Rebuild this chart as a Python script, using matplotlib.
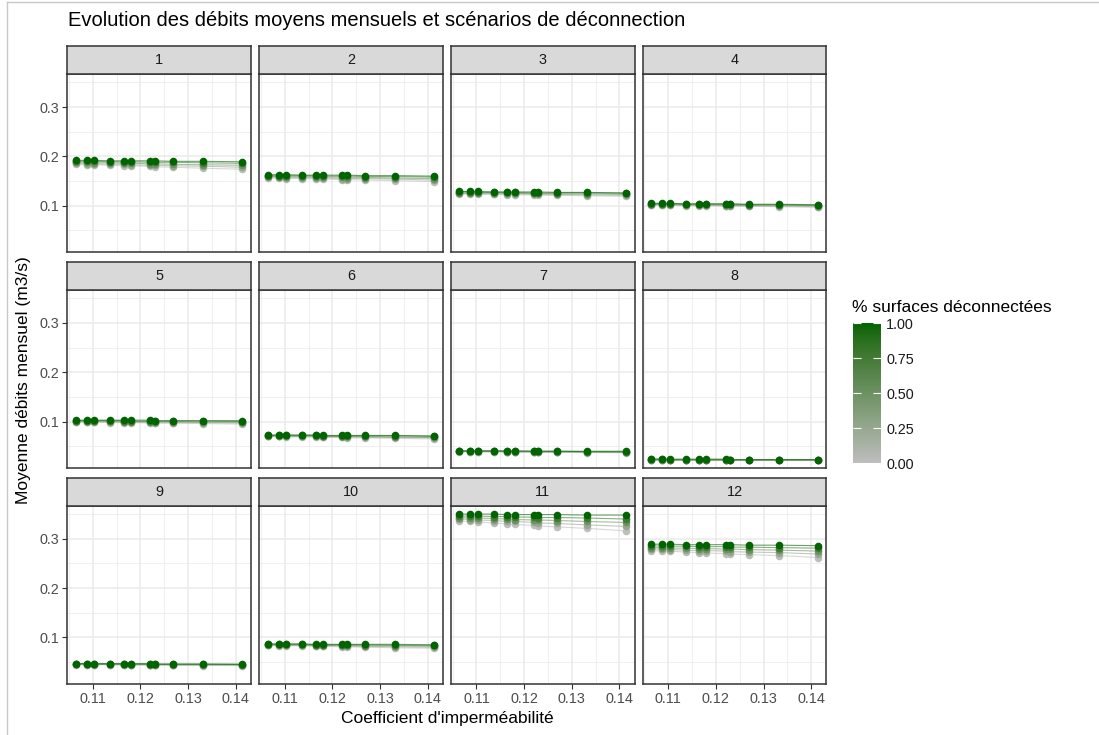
import numpy as np
import matplotlib
matplotlib.use("Agg")
import matplotlib.pyplot as plt
import matplotlib.colors as mcolors
from matplotlib.cm import ScalarMappable

plt.rcParams["font.family"] = ["Liberation Sans", "DejaVu Sans"]

# --- Data ---
impermeability = [0.1064, 0.1087, 0.1103, 0.1137, 0.1165, 0.1180, 0.1221, 0.1230, 0.1269, 0.1332, 0.1414]
disconnected = [0.0, 0.25, 0.5, 0.75, 1.0]
months = [1, 2, 3, 4, 5, 6, 7, 8, 9, 10, 11, 12]

# mean monthly flow (m3/s), one row per disconnection level (0 -> 1)
flow_m1 = [[0.184, 0.183, 0.183, 0.182, 0.181, 0.181, 0.180, 0.179, 0.178, 0.176, 0.174],
           [0.186, 0.185, 0.185, 0.184, 0.184, 0.183, 0.182, 0.182, 0.181, 0.180, 0.178],
           [0.188, 0.188, 0.187, 0.187, 0.186, 0.186, 0.185, 0.185, 0.184, 0.183, 0.182],
           [0.190, 0.190, 0.190, 0.189, 0.189, 0.189, 0.188, 0.188, 0.188, 0.187, 0.186],
           [0.192, 0.192, 0.192, 0.191, 0.191, 0.191, 0.191, 0.191, 0.190, 0.190, 0.189]]
flow_m2 = [[0.156, 0.156, 0.155, 0.155, 0.154, 0.154, 0.153, 0.153, 0.152, 0.151, 0.149],
           [0.158, 0.158, 0.157, 0.157, 0.156, 0.156, 0.155, 0.155, 0.155, 0.154, 0.152],
           [0.160, 0.159, 0.159, 0.159, 0.158, 0.158, 0.158, 0.157, 0.157, 0.156, 0.155],
           [0.161, 0.161, 0.161, 0.161, 0.160, 0.160, 0.160, 0.160, 0.159, 0.159, 0.158],
           [0.163, 0.163, 0.163, 0.162, 0.162, 0.162, 0.162, 0.162, 0.161, 0.161, 0.160]]
flow_m3 = [[0.124, 0.124, 0.123, 0.123, 0.122, 0.122, 0.122, 0.121, 0.121, 0.120, 0.119],
           [0.125, 0.125, 0.125, 0.124, 0.124, 0.124, 0.123, 0.123, 0.123, 0.122, 0.121],
           [0.126, 0.126, 0.126, 0.126, 0.125, 0.125, 0.125, 0.125, 0.124, 0.124, 0.123],
           [0.128, 0.128, 0.127, 0.127, 0.127, 0.127, 0.126, 0.126, 0.126, 0.126, 0.125],
           [0.129, 0.129, 0.129, 0.128, 0.128, 0.128, 0.128, 0.128, 0.127, 0.127, 0.126]]
flow_m4 = [[0.101, 0.101, 0.101, 0.100, 0.100, 0.100, 0.099, 0.099, 0.099, 0.098, 0.097],
           [0.102, 0.102, 0.102, 0.101, 0.101, 0.101, 0.100, 0.100, 0.100, 0.099, 0.098],
           [0.103, 0.103, 0.103, 0.102, 0.102, 0.102, 0.102, 0.101, 0.101, 0.101, 0.100],
           [0.104, 0.104, 0.104, 0.103, 0.103, 0.103, 0.103, 0.103, 0.102, 0.102, 0.101],
           [0.105, 0.105, 0.105, 0.104, 0.104, 0.104, 0.104, 0.104, 0.103, 0.103, 0.102]]
flow_m5 = [[0.099, 0.099, 0.099, 0.098, 0.098, 0.098, 0.097, 0.097, 0.097, 0.096, 0.095],
           [0.100, 0.100, 0.100, 0.099, 0.099, 0.099, 0.099, 0.098, 0.098, 0.098, 0.097],
           [0.101, 0.101, 0.101, 0.101, 0.100, 0.100, 0.100, 0.100, 0.100, 0.099, 0.099],
           [0.102, 0.102, 0.102, 0.102, 0.102, 0.101, 0.101, 0.101, 0.101, 0.101, 0.100],
           [0.103, 0.103, 0.103, 0.103, 0.103, 0.103, 0.103, 0.102, 0.102, 0.102, 0.102]]
flow_m6 = [[0.070, 0.070, 0.069, 0.069, 0.068, 0.068, 0.068, 0.067, 0.067, 0.066, 0.065],
           [0.071, 0.071, 0.070, 0.070, 0.070, 0.069, 0.069, 0.069, 0.068, 0.068, 0.067],
           [0.071, 0.071, 0.071, 0.071, 0.071, 0.070, 0.070, 0.070, 0.070, 0.069, 0.068],
           [0.072, 0.072, 0.072, 0.072, 0.072, 0.071, 0.071, 0.071, 0.071, 0.071, 0.070],
           [0.073, 0.073, 0.073, 0.073, 0.073, 0.072, 0.072, 0.072, 0.072, 0.072, 0.071]]
flow_m7 = [[0.039, 0.039, 0.039, 0.039, 0.038, 0.038, 0.038, 0.038, 0.038, 0.037, 0.037],
           [0.040, 0.039, 0.039, 0.039, 0.039, 0.039, 0.039, 0.038, 0.038, 0.038, 0.038],
           [0.040, 0.040, 0.040, 0.040, 0.039, 0.039, 0.039, 0.039, 0.039, 0.039, 0.038],
           [0.040, 0.040, 0.040, 0.040, 0.040, 0.040, 0.040, 0.040, 0.040, 0.039, 0.039],
           [0.041, 0.041, 0.041, 0.041, 0.041, 0.041, 0.040, 0.040, 0.040, 0.040, 0.040]]
flow_m8 = [[0.023, 0.023, 0.023, 0.023, 0.023, 0.022, 0.022, 0.022, 0.022, 0.022, 0.022],
           [0.023, 0.023, 0.023, 0.023, 0.023, 0.023, 0.023, 0.022, 0.022, 0.022, 0.022],
           [0.023, 0.023, 0.023, 0.023, 0.023, 0.023, 0.023, 0.023, 0.023, 0.023, 0.023],
           [0.024, 0.024, 0.023, 0.023, 0.023, 0.023, 0.023, 0.023, 0.023, 0.023, 0.023],
           [0.024, 0.024, 0.024, 0.024, 0.024, 0.024, 0.024, 0.023, 0.023, 0.023, 0.023]]
flow_m9 = [[0.045, 0.045, 0.045, 0.045, 0.044, 0.044, 0.044, 0.044, 0.044, 0.043, 0.043],
           [0.046, 0.045, 0.045, 0.045, 0.045, 0.045, 0.045, 0.045, 0.044, 0.044, 0.044],
           [0.046, 0.046, 0.046, 0.046, 0.046, 0.045, 0.045, 0.045, 0.045, 0.045, 0.045],
           [0.047, 0.046, 0.046, 0.046, 0.046, 0.046, 0.046, 0.046, 0.046, 0.046, 0.045],
           [0.047, 0.047, 0.047, 0.047, 0.047, 0.047, 0.047, 0.046, 0.046, 0.046, 0.046]]
flow_m10 = [[0.084, 0.083, 0.083, 0.083, 0.082, 0.082, 0.081, 0.081, 0.080, 0.079, 0.078],
            [0.085, 0.084, 0.084, 0.084, 0.083, 0.083, 0.083, 0.082, 0.082, 0.081, 0.080],
            [0.085, 0.085, 0.085, 0.085, 0.084, 0.084, 0.084, 0.084, 0.083, 0.083, 0.082],
            [0.086, 0.086, 0.086, 0.086, 0.085, 0.085, 0.085, 0.085, 0.085, 0.084, 0.084],
            [0.087, 0.087, 0.087, 0.087, 0.086, 0.086, 0.086, 0.086, 0.086, 0.086, 0.085]]
flow_m11 = [[0.336, 0.335, 0.334, 0.332, 0.330, 0.329, 0.327, 0.326, 0.324, 0.321, 0.316],
            [0.340, 0.339, 0.338, 0.337, 0.335, 0.335, 0.333, 0.332, 0.331, 0.328, 0.325],
            [0.343, 0.342, 0.342, 0.341, 0.340, 0.339, 0.338, 0.338, 0.337, 0.335, 0.333],
            [0.346, 0.346, 0.346, 0.345, 0.345, 0.344, 0.344, 0.343, 0.343, 0.342, 0.340],
            [0.350, 0.350, 0.350, 0.350, 0.349, 0.349, 0.349, 0.349, 0.349, 0.348, 0.348]]
flow_m12 = [[0.276, 0.275, 0.275, 0.273, 0.272, 0.271, 0.270, 0.269, 0.268, 0.266, 0.262],
            [0.279, 0.279, 0.278, 0.277, 0.276, 0.276, 0.275, 0.274, 0.273, 0.272, 0.269],
            [0.282, 0.282, 0.281, 0.281, 0.280, 0.280, 0.279, 0.279, 0.278, 0.277, 0.275],
            [0.286, 0.285, 0.285, 0.285, 0.284, 0.284, 0.284, 0.283, 0.283, 0.282, 0.281],
            [0.289, 0.289, 0.289, 0.288, 0.288, 0.288, 0.288, 0.288, 0.287, 0.287, 0.286]]

flows = [flow_m1, flow_m2, flow_m3, flow_m4, flow_m5, flow_m6,
         flow_m7, flow_m8, flow_m9, flow_m10, flow_m11, flow_m12]

x_ticks = [0.11, 0.12, 0.13, 0.14]
y_ticks = [0.1, 0.2, 0.3]


# --- grey -> darkgreen gradient interpolated in CIELAB (like ggplot) ---
M = np.array([[0.4124, 0.3576, 0.1805], [0.2126, 0.7152, 0.0722], [0.0193, 0.1192, 0.9505]])
WHITE = np.array([0.95047, 1.0, 1.08883])


def to_lab(c):
    rgb = np.array(mcolors.to_rgb(c))
    lin = np.where(rgb <= 0.04045, rgb / 12.92, ((rgb + 0.055) / 1.055) ** 2.4)
    xyz = M @ lin / WHITE
    f = np.where(xyz > 0.008856, np.cbrt(xyz), 7.787 * xyz + 16 / 116)
    return np.array([116 * f[1] - 16, 500 * (f[0] - f[1]), 200 * (f[1] - f[2])])


def from_lab(lab):
    fy = (lab[0] + 16) / 116
    f = np.array([fy + lab[1] / 500, fy, fy - lab[2] / 200])
    xyz = np.where(f ** 3 > 0.008856, f ** 3, (f - 16 / 116) / 7.787) * WHITE
    lin = np.linalg.inv(M) @ xyz
    lin = np.clip(lin, 0, 1)
    rgb = np.where(lin <= 0.0031308, 12.92 * lin, 1.055 * lin ** (1 / 2.4) - 0.055)
    return np.clip(rgb, 0, 1)


lo, hi = to_lab("#BEBEBE"), to_lab("#006400")
cmap = mcolors.ListedColormap([from_lab(lo + t * (hi - lo)) for t in np.linspace(0, 1, 256)])
norm = mcolors.Normalize(0, 1)

# --- figure layout (pixel based) ---
W, H = 1099, 735
fig = plt.figure(figsize=(W / 100, H / 100), dpi=100)


def fig_box(left, top, width, height):
    return [left / W, 1 - (top + height) / H, width / W, height / H]


col_left = [67.3, 259.3, 451.0, 642.7]
row_top = [74.3, 290.2, 506.0]
pw, ph, sh = 183.5, 178.0, 28.5

xs = np.array(impermeability)
xr = xs.max() - xs.min()
xlim = (xs.min() - 0.05 * xr, xs.max() + 0.05 * xr)
all_y = np.array(flows)
yr = all_y.max() - all_y.min()
ylim = (all_y.min() - 0.05 * yr, all_y.max() + 0.05 * yr)

for i, month in enumerate(months):
    r, c = divmod(i, 4)
    ax = fig.add_axes(fig_box(col_left[c], row_top[r], pw, ph))
    ax.set_xlim(xlim)
    ax.set_ylim(ylim)
    ax.set_xticks(x_ticks)
    ax.set_yticks(y_ticks)
    ax.set_xticks([0.105, 0.115, 0.125, 0.135], minor=True)
    ax.set_yticks([0.05, 0.15, 0.25, 0.35], minor=True)
    ax.grid(which="major", color="#EBEBEB", linewidth=1.1)
    ax.grid(which="minor", color="#EBEBEB", linewidth=0.55)
    ax.set_axisbelow(True)
    for s in ax.spines.values():
        s.set_color("#333333")
        s.set_linewidth(1.1)
    ax.tick_params(which="minor", length=0)
    ax.tick_params(which="major", length=3.5, width=0.8, color="#333333",
                   labelsize=10.4, labelcolor="#4D4D4D", pad=2)
    ax.set_xticklabels([f"{t:.2f}" for t in x_ticks])
    ax.set_yticklabels([f"{t:.1f}" for t in y_ticks])
    if r != 2:
        ax.tick_params(axis="x", length=0, labelbottom=False)
    if c != 0:
        ax.tick_params(axis="y", length=0, labelleft=False)

    for d, ys in zip(disconnected, flows[i]):
        col = cmap(norm(d))
        ax.plot(impermeability, ys, color=col, linewidth=0.8, alpha=0.6, zorder=2)
        ax.scatter(impermeability, ys, color=col, s=30, linewidths=0, zorder=3)

    sax = fig.add_axes(fig_box(col_left[c], row_top[r] - sh, pw, sh))
    sax.set_facecolor("#D9D9D9")
    sax.set_xticks([])
    sax.set_yticks([])
    for s in sax.spines.values():
        s.set_color("#333333")
        s.set_linewidth(1.1)
    sax.text(0.5, 0.5, str(month), ha="center", va="center", fontsize=10.4,
             color="#1A1A1A", transform=sax.transAxes)

# --- titles ---
fig.text(68 / W, 1 - 21 / H, "Evolution des débits moyens mensuels et scénarios de déconnection",
         fontsize=14.5, ha="left", va="center", color="black")
fig.text(447 / W, 1 - 719 / H, "Coefficient d'imperméabilité", fontsize=12.5,
         ha="center", va="center")
fig.text(24 / W, 1 - 380 / H, "Moyenne débits mensuel (m3/s)", fontsize=12.5,
         ha="center", va="center", rotation=90)

# --- colour bar legend ---
cax = fig.add_axes(fig_box(852.7, 323.3, 28, 140))
cb = fig.colorbar(ScalarMappable(norm=norm, cmap=cmap), cax=cax)
cb.outline.set_visible(False)
cb.set_ticks([0, 0.25, 0.5, 0.75, 1.0])
cb.set_ticklabels(["0.00", "0.25", "0.50", "0.75", "1.00"])
cax.tick_params(direction="in", length=5.5, width=0.8, color="white",
                left=True, right=True, labelsize=10.4, labelcolor="#1A1A1A", pad=4)
fig.text(852 / W, 1 - 307 / H, "% surfaces déconnectées", fontsize=12.5,
         ha="left", va="center")

# --- screenshot frame ---
fig.add_artist(plt.Line2D([7 / W, 7 / W], [0, 1 - 2 / H], color="#C8C8C8", linewidth=1))
fig.add_artist(plt.Line2D([7 / W, 1], [1 - 2 / H, 1 - 2 / H], color="#C8C8C8", linewidth=1))

fig.savefig("out.png", dpi=100, facecolor="white")
